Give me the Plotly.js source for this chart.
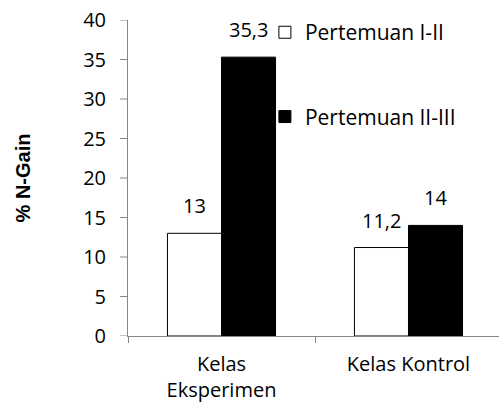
<!DOCTYPE html>
<html>
<head>
<meta charset="utf-8">
<script src="https://cdn.plot.ly/plotly-3.0.1.min.js"></script>
<style>html,body{margin:0;padding:0;background:#fff;}#chart{width:499px;height:416px;}</style>
</head>
<body>
<div id="chart"></div>
<script>
const categories = ["Kelas<br>Eksperimen", "Kelas Kontrol"];
const seriesNames = ["Pertemuan I-II", "Pertemuan II-III"];
const pertemuan1 = [13, 11.2];
const pertemuan2 = [35.3, 14];
const yTicks = [0, 5, 10, 15, 20, 25, 30, 35, 40];

const FONT = "Open Sans, sans-serif";
const AXIS = "#868686";

const traces = [
  {
    type: "bar", name: seriesNames[0], x: categories, y: pertemuan1,
    marker: {color: "#ffffff", line: {color: "#000000", width: 1}},
    legendgroup: "a", hoverinfo: "skip"
  },
  {
    type: "bar", name: seriesNames[1], x: categories, y: pertemuan2,
    marker: {color: "#000000", line: {color: "#000000", width: 1}},
    legendgroup: "b", hoverinfo: "skip"
  }
];

function fmt(v){ return String(v).replace(".", ","); }
const annotations = [];
[pertemuan1, pertemuan2].forEach((vals, s) => {
  vals.forEach((v, i) => {
    annotations.push({
      x: categories[i], y: v, xref: "x", yref: "y",
      text: fmt(v), showarrow: false, yanchor: "bottom",
      xshift: s === 0 ? -27 : 27, yshift: 12,
      font: {family: FONT, size: 20, color: "#000"}
    });
  });
});

// visible short tick marks on the y axis (labels sit further out)
const tickShapes = yTicks.map(v => ({
  type: "line", xref: "paper", yref: "y",
  xsizemode: "pixel", xanchor: 0, x0: -8, x1: 0,
  y0: v, y1: v, line: {color: AXIS, width: 1}
}));

const layout = {
  width: 499, height: 416,
  margin: {l: 128, r: 0, t: 20, b: 80},
  paper_bgcolor: "#fff", plot_bgcolor: "#fff",
  barmode: "group", bargap: 0.422, bargroupgap: 0,
  showlegend: true,
  legend: {
    x: 0.369, y: 1.025, xanchor: "left", yanchor: "top",
    font: {family: FONT, size: 21, color: "#000"},
    traceorder: "grouped", tracegroupgap: 54,
    bgcolor: "rgba(0,0,0,0)"
  },
  font: {family: FONT, size: 20, color: "#000"},
  xaxis: {
    range: [-0.5, 1.484], showgrid: false, zeroline: false,
    showline: true, linecolor: AXIS, linewidth: 1,
    ticks: "outside", tickson: "boundaries", ticklen: 6, tickcolor: AXIS,
    ticklabelstandoff: 10,
    tickfont: {family: FONT, size: 20, color: "#000"}, fixedrange: true
  },
  yaxis: {
    range: [0, 40], tickvals: yTicks, ticktext: yTicks.map(String),
    showgrid: false, zeroline: false,
    showline: true, linecolor: AXIS, linewidth: 1,
    ticks: "outside", ticklen: 17, tickcolor: "rgba(0,0,0,0)",
    tickfont: {family: FONT, size: 20, color: "#000"},
    title: {text: "<b>% N-Gain</b>", font: {family: "Liberation Sans, Arial, sans-serif", size: 20, color: "#000"}, standoff: 47},
    fixedrange: true
  },
  shapes: tickShapes,
  annotations: annotations
};

Plotly.newPlot("chart", traces, layout, {staticPlot: true, displayModeBar: false});
</script>
</body>
</html>
